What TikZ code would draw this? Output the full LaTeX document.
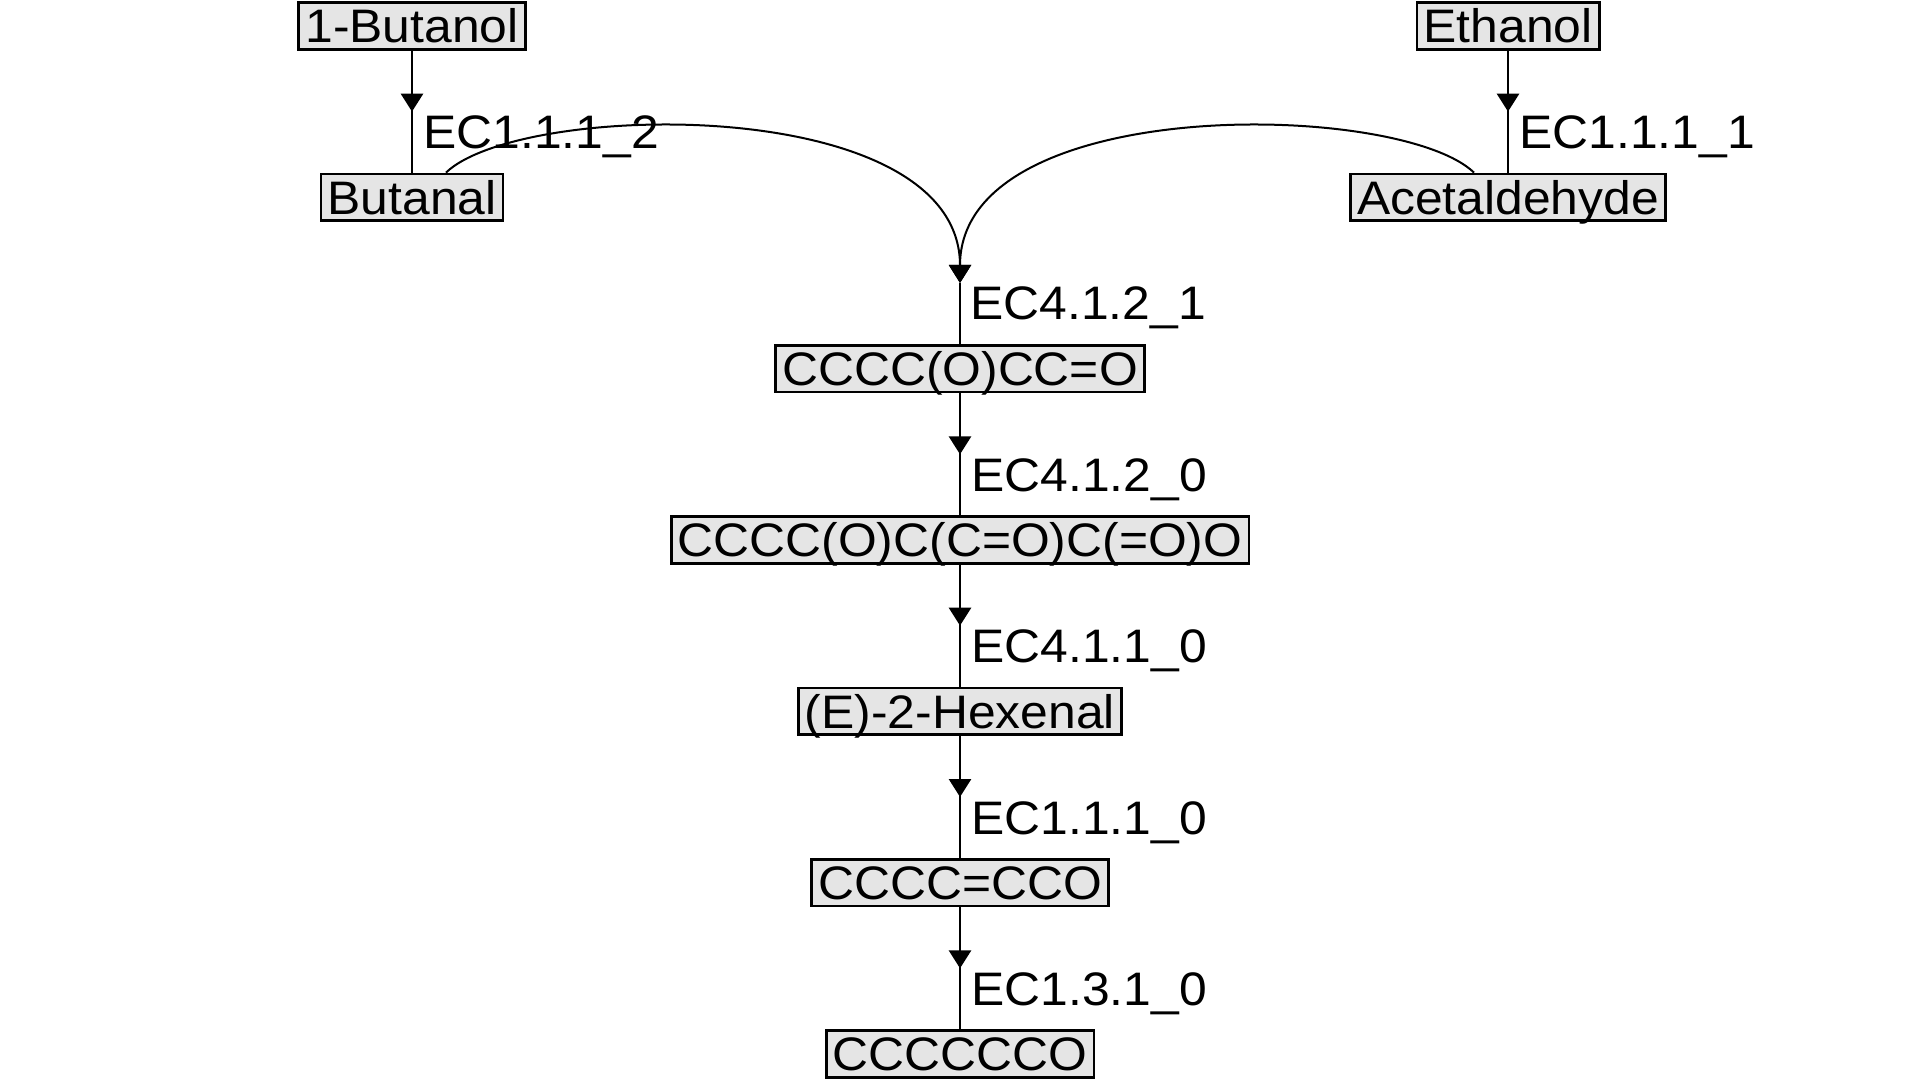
\documentclass[tikz,border=0pt]{standalone}
\usepackage{fontspec}
\setmainfont{Liberation Sans}[FakeStretch=1.06]
\usetikzlibrary{arrows.meta,decorations.markings,calc}
\definecolor{boxfill}{RGB}{229,229,229}
\tikzset{
  spec/.style={draw=black, line width=1.4pt, fill=boxfill, inner xsep=3.3pt, inner ysep=0pt,
    minimum height=23.3pt, text height=16.8pt, text depth=0pt,
    font=\fontsize{23.5}{28}\selectfont},
  rxn/.style={line width=1.4pt, postaction={decorate},
    decoration={markings, mark=at position 0.5 with {\arrow{Triangle[width=11pt,length=9pt]}}}},
  lab/.style={font=\fontsize{23.5}{28}\selectfont, inner sep=0pt, anchor=base west,
    xshift=5pt, yshift=-18.5pt},
  curv/.style={line width=1pt, -{Triangle[width=11pt,length=9pt]}},
}
\begin{document}
\begin{tikzpicture}[x=0.5pt,y=-0.5pt]
\useasboundingbox (0,0) rectangle (1920,1080);
\node[spec] (but1) at (412,26) {1-Butanol};
\node[spec] (eth) at (1508,26) {Ethanol};
\node[spec] (butanal) at (412,197.3) {Butanal};
\node[spec] (acet) at (1508,197.3) {Acetaldehyde};
\node[spec] (p1) at (960,368.7) {CCCC(O)CC=O};
\node[spec] (p2) at (960,540) {CCCC(O)C(C=O)C(=O)O};
\node[spec] (p3) at (960,711.3) {(E)-2-Hexenal};
\node[spec] (p4) at (960,882.7) {CCCC=CCO};
\node[spec] (p5) at (960,1054) {CCCCCCO};

\draw[rxn] (but1) -- node[lab]{EC1.1.1\_2} (butanal);
\draw[rxn] (eth) -- node[lab]{EC1.1.1\_1} (acet);
\coordinate (m1) at ($(p1.north)!0.5!(p1.north |- butanal.south)$);
\draw[curv] (butanal.36) .. controls +(75,-72) and +(0,-190) .. (m1);
\draw[curv] (acet.144) .. controls +(-75,-72) and +(0,-190) .. (m1);
\draw[line width=1.4pt] (m1) -- (p1);
\node[lab] (l1) at (m1) {EC4.1.2\_1};
\draw[rxn] (p1) -- node[lab]{EC4.1.2\_0} (p2);
\draw[rxn] (p2) -- node[lab]{EC4.1.1\_0} (p3);
\draw[rxn] (p3) -- node[lab]{EC1.1.1\_0} (p4);
\draw[rxn] (p4) -- node[lab]{EC1.3.1\_0} (p5);
\end{tikzpicture}
\end{document}
